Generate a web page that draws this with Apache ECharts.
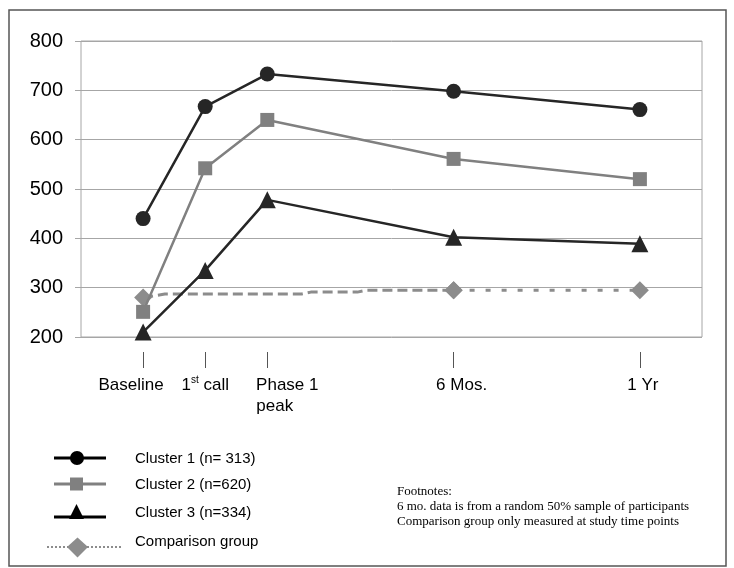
<!DOCTYPE html>
<html>
<head>
<meta charset="utf-8">
<style>html,body{margin:0;padding:0;background:#fff;}#chart{width:734px;height:568px;}</style>
<script src="https://cdn.jsdelivr.net/npm/echarts@6.0.0/dist/echarts.min.js"></script>
</head>
<body>
<div id="chart"></div>
<script>
// ---- data ----
const tickPositions = [1, 2, 3, 6, 9];
const tickLabels = ['Baseline', '1st call', 'Phase 1 peak', '6 Mos.', '1 Yr'];
const cluster1 = [440, 667, 733, 698, 661];
const cluster2 = [251, 542, 640, 561, 520];
const cluster3 = [210, 335, 478, 402, 389];
const compDashX = [1, 1.35, 3.55, 3.7, 4.45, 4.6, 6];
const compDashY = [280, 287, 287, 291, 291, 295, 295];
const compDashMarked = [true, false, false, false, false, false, true];
const compDotX = [6, 9];
const compDotY = [295, 295];
const yTicks = [200, 300, 400, 500, 600, 700, 800];
const seriesNames = ['Cluster 1 (n= 313)', 'Cluster 2 (n=620)', 'Cluster 3 (n=334)', 'Comparison group'];
const footnotes = ['Footnotes:', '6 mo. data is from a random 50% sample of participants', 'Comparison group only measured at study time points'];

const SANS = '"Liberation Sans", Arial, sans-serif';
const SERIF = '"Liberation Serif", "Times New Roman", serif';

function pairs(xs, ys) { return xs.map((x, i) => [x, ys[i]]); }

function fmtLabel(v) {
  const i = tickPositions.indexOf(v);
  if (i < 0) return '';
  const t = tickLabels[i];
  if (i === 0) return '{b|' + t + '}';
  if (i === 1) { const m = t.match(/^(\d+)(st)(.*)$/); return m[1] + '{s|' + m[2] + '}' + m[3]; }
  if (i === 2) { const parts = t.split(' '); return '{p|' + parts[0] + ' ' + parts[1] + '}\n{q|' + parts[2] + '}'; }
  if (i === 3) return '{m|' + t + '}';
  return '{y|' + t + '}';
}

const chart = echarts.init(document.getElementById('chart'), null, { renderer: 'canvas' });

const dark = '#262626', grey = '#808080', compGrey = '#8c8c8c';

const labelRich = {
  b: { fontSize: 17, fontFamily: SANS, padding: [0, 24, 0, 0] },
  s: { fontSize: 10, fontFamily: SANS, verticalAlign: 'top', lineHeight: 10 },
  p: { fontSize: 17, fontFamily: SANS, padding: [0, 0, 0, 40], lineHeight: 21 },
  q: { fontSize: 17, fontFamily: SANS, padding: [0, 0, 0, 15], lineHeight: 21 },
  m: { fontSize: 17, fontFamily: SANS, padding: [0, 0, 0, 16] },
  y: { fontSize: 17, fontFamily: SANS, padding: [0, 0, 0, 6] }
};
function labelAxis(values) {
  return {
    type: 'value', min: 0, max: 10, position: 'bottom', offset: 15,
    axisLine: { show: false }, splitLine: { show: false }, axisTick: { show: false },
    axisLabel: {
      customValues: values, showMinLabel: true, showMaxLabel: true,
      formatter: fmtLabel, margin: 23,
      fontSize: 17, fontFamily: SANS, color: '#000', lineHeight: 21, rich: labelRich
    }
  };
}

const option = {
  animation: false,
  backgroundColor: '#fff',
  grid: { left: 81, right: 32, top: 41, bottom: 231, show: true, borderColor: '#a6a6a6', borderWidth: 1 },
  xAxis: [
    {
      type: 'value', min: 0, max: 10, position: 'bottom', offset: 15,
      axisLine: { show: false }, splitLine: { show: false },
      axisTick: { show: true, length: 16, lineStyle: { color: '#555', width: 1 }, customValues: tickPositions },
      axisLabel: { show: false }
    },
    labelAxis([tickPositions[0], tickPositions[2], tickPositions[4]]),
    labelAxis([tickPositions[1], tickPositions[3]])
  ],
  yAxis: {
    type: 'value', min: 200, max: 800, interval: 100,
    axisLine: { show: false },
    axisTick: { show: true, length: 6, lineStyle: { color: '#a6a6a6' } },
    splitLine: { show: true, lineStyle: { color: '#a6a6a6', width: 1 } },
    axisLabel: { fontSize: 20, fontFamily: SANS, color: '#000', margin: 18,
      formatter: v => (yTicks.indexOf(v) >= 0 ? String(v) : '') }
  },
  series: [
    {
      name: seriesNames[3], type: 'line',
      data: compDashX.map((x, i) => ({ value: [x, compDashY[i]], symbol: compDashMarked[i] ? 'diamond' : 'none' })),
      symbolSize: 18, itemStyle: { color: compGrey },
      lineStyle: { color: compGrey, width: 3, type: [10, 5] }, z: 2
    },
    {
      name: seriesNames[3] + ' ', type: 'line',
      data: pairs(compDotX, compDotY),
      symbol: 'diamond', symbolSize: 18, itemStyle: { color: compGrey },
      lineStyle: { color: compGrey, width: 3, type: [5, 11] }, z: 2
    },
    {
      name: seriesNames[0], type: 'line', data: pairs(tickPositions, cluster1),
      symbol: 'circle', symbolSize: 15, itemStyle: { color: dark },
      lineStyle: { color: dark, width: 2.5 }, z: 3
    },
    {
      name: seriesNames[1], type: 'line', data: pairs(tickPositions, cluster2),
      symbol: 'rect', symbolSize: 14, itemStyle: { color: grey },
      lineStyle: { color: grey, width: 2.5 }, z: 4
    },
    {
      name: seriesNames[2], type: 'line', data: pairs(tickPositions, cluster3),
      symbol: 'triangle', symbolSize: 17, itemStyle: { color: dark },
      lineStyle: { color: dark, width: 2.5 }, z: 5
    }
  ],
  graphic: [
    { type: 'rect', shape: { x: 9, y: 10, width: 717, height: 556 }, style: { fill: 'none', stroke: '#555', lineWidth: 1.5 }, silent: true },
    // legend row 1
    { type: 'line', shape: { x1: 54, y1: 458, x2: 106, y2: 458 }, style: { stroke: '#000', lineWidth: 3 } },
    { type: 'circle', shape: { cx: 77, cy: 458, r: 7 }, style: { fill: '#000' } },
    { type: 'text', style: { text: seriesNames[0], x: 135, y: 459, font: '15px ' + SANS, fill: '#000', verticalAlign: 'middle' } },
    // row 2
    { type: 'line', shape: { x1: 54, y1: 484, x2: 106, y2: 484 }, style: { stroke: grey, lineWidth: 3 } },
    { type: 'rect', shape: { x: 70, y: 477.5, width: 13, height: 13 }, style: { fill: grey } },
    { type: 'text', style: { text: seriesNames[1], x: 135, y: 485, font: '15px ' + SANS, fill: '#000', verticalAlign: 'middle' } },
    // row 3
    { type: 'line', shape: { x1: 54, y1: 517, x2: 106, y2: 517 }, style: { stroke: '#000', lineWidth: 3 } },
    { type: 'polygon', shape: { points: [[76.5, 504], [84, 519], [69, 519]] }, style: { fill: '#000' } },
    { type: 'text', style: { text: seriesNames[2], x: 135, y: 513, font: '15px ' + SANS, fill: '#000', verticalAlign: 'middle' } },
    // row 4
    { type: 'line', shape: { x1: 47, y1: 547, x2: 123, y2: 547 }, style: { stroke: compGrey, lineWidth: 2, lineDash: [2, 2] } },
    { type: 'polygon', shape: { points: [[77.5, 537.5], [88, 547], [77.5, 557.5], [67, 547]] }, style: { fill: compGrey } },
    { type: 'text', style: { text: seriesNames[3], x: 135, y: 542, font: '15px ' + SANS, fill: '#000', verticalAlign: 'middle' } },
    // footnotes
    { type: 'text', style: { text: footnotes.join('\n'), x: 397, y: 484, font: '13px ' + SERIF, lineHeight: 15, fill: '#000' } }
  ]
};
chart.setOption(option);
</script>
</body>
</html>
